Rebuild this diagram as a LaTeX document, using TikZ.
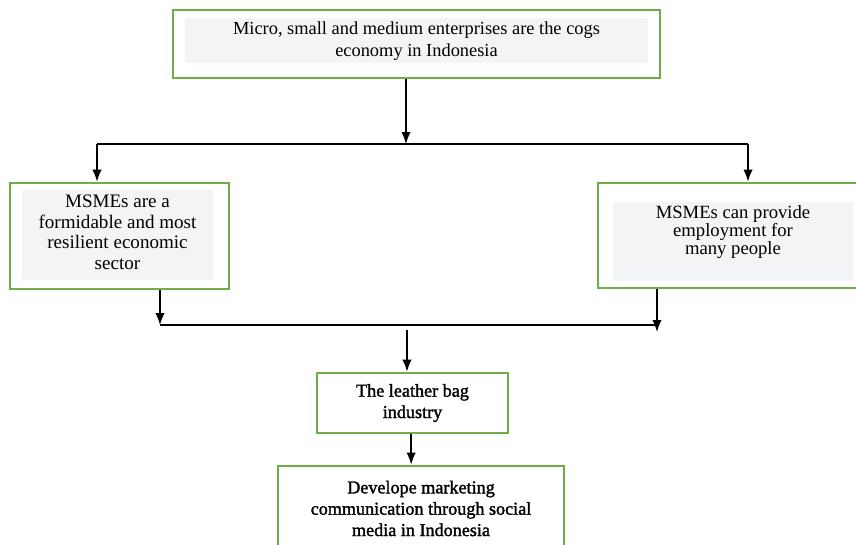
\documentclass[tikz,border=0pt]{standalone}
\usepackage{fontspec}
\setmainfont{Liberation Serif}
\newfontfamily\darkserif{Liberation Serif}[FakeBold=1.6]
\usetikzlibrary{positioning, arrows.meta}
\definecolor{boxgreen}{RGB}{112,173,71}
\definecolor{shadegray}{RGB}{243,244,246}
\tikzset{%
	>={Latex[length=9pt, width=7pt]},
	link/.style = {line width = 1.1pt},
	frame/.style = {draw = boxgreen, line width = 2pt, fill = white, inner sep = 0pt},
	shade/.style = {fill = shadegray, inner sep = 0pt},
	txt/.style = {align = center, inner sep = 0pt, font = \fontsize{13.8}{16.5}\selectfont},
	darktxt/.style = {txt, font = \fontsize{13.6}{16}\selectfont\darkserif}
}
\begin{document}
\begin{tikzpicture}[x = 0.75pt, y = -0.75pt]
		\useasboundingbox (0,0) rectangle (856,544);
		\clip (0,0) rectangle (856,544);
		% boxes
		\node [frame, minimum width = 365.3pt, minimum height = 51pt] (cogs) at (416.5,44) {};
		\node [shade, minimum width = 347.3pt, minimum height = 33.8pt] (cogs-bg) at (416.5,40.5) {};
		\node [txt] (cogs-text) at (416.5,41) {Micro, small and medium enterprises are the cogs\\economy in Indonesia};
		\node [frame, minimum width = 164.3pt, minimum height = 79.5pt] (resilient) at (119.5,236) {};
		\node [shade, minimum width = 143.3pt, minimum height = 67.5pt] (resilient-bg) at (117.5,235) {};
		\node [txt, font = \fontsize{14.3}{15.4}\selectfont] (resilient-text) at (117.5,232.5) {MSMEs are a\\formidable and most\\resilient economic\\sector};
		\node [frame, minimum width = 211.5pt, minimum height = 78.8pt] (jobs) at (739,235.5) {};
		\node [shade, minimum width = 180pt, minimum height = 59.3pt] (jobs-bg) at (733,241.5) {};
		\node [txt, font = \fontsize{14}{12.4}\selectfont] (jobs-text) at (733,232) {MSMEs can provide\\employment for\\many people};
		\node [frame, minimum width = 143.3pt, minimum height = 45pt, darktxt] (leather) at (412.5,403) {The leather bag\\industry};
		\node [frame, minimum width = 214.5pt, minimum height = 78pt] (develop) at (421,518) {};
		\node [darktxt] (develop-text) at (421,508.5) {Develope marketing\\communication through social\\media in Indonesia};
		% split and join lines
		\coordinate (splitM) at (406,144);
		\coordinate (splitL) at (97,144);
		\coordinate (splitR) at (748,144);
		\coordinate (joinL) at (160,325);
		\coordinate (joinR) at (657,325);
		\coordinate (joinRtip) at (657,332);
		\coordinate (joinM) at (407,330);
		\draw [link] (splitL) -- (splitR);
		\draw [link] (joinL) -- (joinR);
		\draw [link, ->] (cogs.south -| splitM) -- (splitM);
		\draw [link, ->] (splitL) -- (splitL |- resilient.north);
		\draw [link, ->] (splitR) -- (splitR |- jobs.north);
		\draw [link, ->] (resilient.south -| joinL) -- (joinL);
		\draw [link, ->] (jobs.south -| joinR) -- (joinRtip);
		\draw [link, ->] (joinM) -- (joinM |- leather.north);
		\draw [link, ->] ([xshift = -1pt]leather.south) -- ([xshift = -1pt]leather.south |- develop.north);
\end{tikzpicture}
\end{document}
